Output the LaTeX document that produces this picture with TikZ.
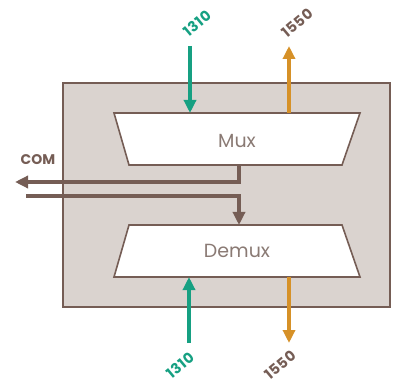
\documentclass[tikz,border=0pt]{standalone}
\usepackage{fontspec}
\setmainfont{Poppins}
\newfontfamily\wlfont[LetterSpace=4]{Poppins}
\usetikzlibrary{arrows.meta}
\definecolor{boxfill}{RGB}{218,211,207}
\definecolor{brownc}{RGB}{117,93,85}
\definecolor{textc}{RGB}{138,122,116}
\definecolor{greenc}{RGB}{22,160,130}
\definecolor{orangec}{RGB}{214,145,40}
\tikzset{
  frame/.style={draw=brownc,fill=boxfill,line width=1.6pt},
  trap/.style={draw=brownc,fill=white,line width=1.6pt},
  lbl/.style={text=textc,font=\fontsize{19}{19}\selectfont},
  wl/.style={font=\wlfont\bfseries\fontsize{14.5}{14.5}\selectfont,rotate=40,inner sep=0pt},
  arr/.style={line width=3.5pt,-{Triangle[width=12pt,length=13pt]}},
}
\begin{document}
\begin{tikzpicture}[x=1pt,y=-1pt]
\useasboundingbox (0,0) rectangle (401,387);
\draw[frame] (63,83) rectangle (390,307);
% Mux
\draw[trap] (114,113) -- (360,113) -- (342,165) -- (129,165) -- cycle;
\node[lbl] (mux) at (237,141) {Mux};
% Demux
\draw[trap] (129,225) -- (342,225) -- (360,277) -- (114,277) -- cycle;
\node[lbl] (demux) at (237,251) {Demux};
% coordinates
\coordinate (muxT1) at (190,113);
\coordinate (muxT2) at (289,113);
\coordinate (muxB) at (239,165);
\coordinate (demT) at (239,225);
\coordinate (demB1) at (189,277);
\coordinate (demB2) at (289,277);
\coordinate (inTop) at (190,46);
\coordinate (outTop) at (289,46);
\coordinate (inBot) at (189,343);
\coordinate (outBot) at (289,343);
\coordinate (comOut) at (15,182);
\coordinate (comIn) at (26,196);
% wavelength labels
\node[wl,text=greenc] (l1) at (197,23) {1310};
\node[wl,text=brownc] (l2) at (297,23) {1550};
\node[wl,text=greenc] (l3) at (180,365) {1310};
\node[wl,text=brownc] (l4) at (280,365) {1550};
\node[font=\bfseries\fontsize{14}{14}\selectfont,text=brownc] (com) at (38,160) {COM};
% arrows
\draw[arr,greenc] (inTop) -- (muxT1);
\draw[arr,orangec] (muxT2) -- (outTop);
\draw[arr,greenc] (inBot) -- (demB1);
\draw[arr,orangec] (demB2) -- (outBot);
\draw[arr,brownc] (muxB) |- (comOut);
\draw[arr,brownc] (comIn) -| (demT);
\end{tikzpicture}
\end{document}
